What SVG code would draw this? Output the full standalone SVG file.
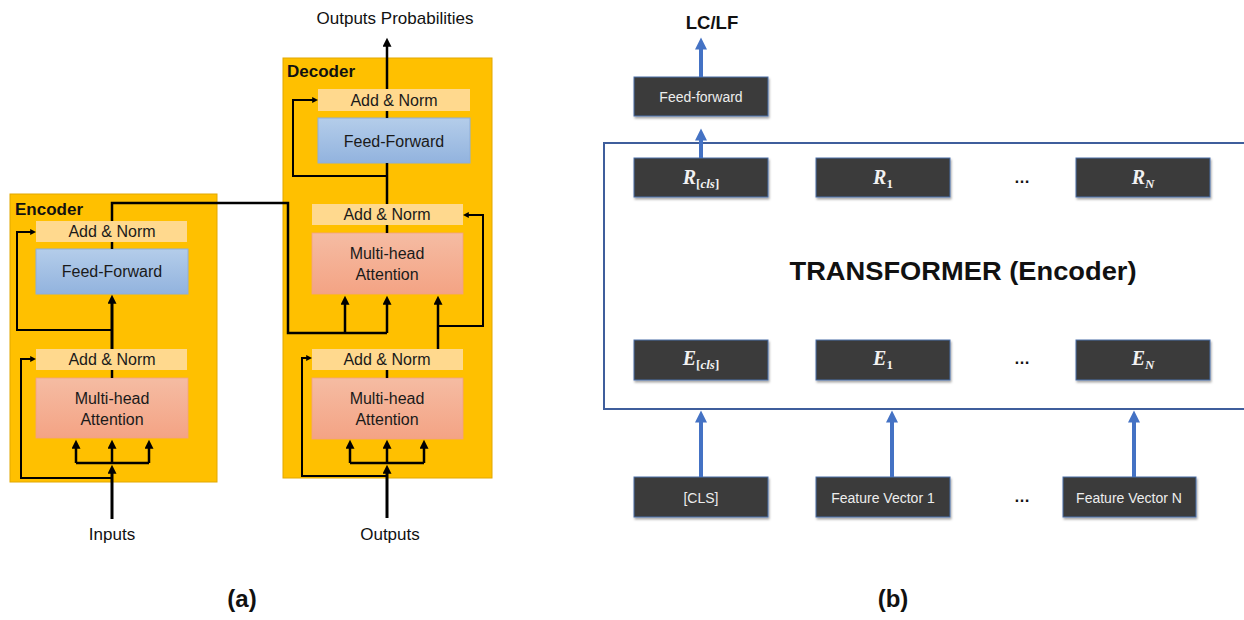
<svg xmlns="http://www.w3.org/2000/svg" width="1244" height="620" viewBox="0 0 1244 620">
  <defs>
    <linearGradient id="gFF" x1="0" y1="0" x2="0" y2="1">
      <stop offset="0" stop-color="#B4CDEA"/>
      <stop offset="1" stop-color="#92B3DE"/>
    </linearGradient>
    <linearGradient id="gMHA" x1="0" y1="0" x2="0" y2="1">
      <stop offset="0" stop-color="#F5BCA3"/>
      <stop offset="1" stop-color="#F4A384"/>
    </linearGradient>
    <filter id="shadow" x="-10%" y="-10%" width="125%" height="140%">
      <feDropShadow dx="1" dy="2" stdDeviation="1.2" flood-color="#000" flood-opacity="0.35"/>
    </filter>
    <marker id="arr" viewBox="0 0 10 10" markerWidth="10" markerHeight="9" refX="3" refY="5" orient="auto" markerUnits="userSpaceOnUse">
      <path d="M0,0 L10,5 L0,10 z" fill="#000"/>
    </marker>
    <marker id="arrS" viewBox="0 0 10 10" markerWidth="6" markerHeight="6" refX="3" refY="5" orient="auto" markerUnits="userSpaceOnUse">
      <path d="M0,0 L10,5 L0,10 z" fill="#000"/>
    </marker>
    <marker id="arrB" viewBox="0 0 10 10" markerWidth="13" markerHeight="12" refX="3" refY="5" orient="auto" markerUnits="userSpaceOnUse">
      <path d="M0,0 L10,5 L0,10 z" fill="#4472C4"/>
    </marker>
  </defs>
  <style>
    .panel { fill: #FFC000; stroke: #E2A800; stroke-width: 1; }
    .norm { fill: #FFD98E; }
    .ff { fill: url(#gFF); stroke: #8EAEDB; stroke-width: 1; }
    .mha { fill: url(#gMHA); stroke: #F2A080; stroke-width: 0.8; }
    .lbl { font-family: "Liberation Sans", Arial, sans-serif; font-size: 16px; fill: #1a1a1a; text-anchor: middle; }
    .title { font-family: "Liberation Sans", Arial, sans-serif; font-size: 17px; font-weight: bold; fill: #111; }
    .io { font-family: "Liberation Sans", Arial, sans-serif; font-size: 17px; fill: #111; text-anchor: middle; }
    .cap { font-family: "Liberation Sans", Arial, sans-serif; font-size: 24px; font-weight: bold; fill: #111; text-anchor: middle; }
    .dark { fill: #3A3A3A; stroke: #4A6FA8; stroke-width: 1; filter: url(#shadow); }
    .wt { font-family: "Liberation Sans", Arial, sans-serif; font-size: 14px; fill: #EDEDED; text-anchor: middle; }
    .math { font-family: "Liberation Serif", "Times New Roman", serif; font-size: 20px; font-weight: bold; font-style: italic; fill: #F2F2F2; text-anchor: middle; }
    .sub { font-size: 13px; }
    .up { font-style: normal; }
    .dots { font-family: "Liberation Sans", Arial, sans-serif; font-size: 16px; font-weight: bold; fill: #111; text-anchor: middle; }
    .k { fill: none; stroke: #000; stroke-width: 2.5; }
    .k3 { fill: none; stroke: #000; stroke-width: 3; }
    .k2 { fill: none; stroke: #000; stroke-width: 2; }
    .b { fill: none; stroke: #4472C4; stroke-width: 4; }
  </style>

  <rect width="1244" height="620" fill="#fff"/>

  <!-- (a) encoder stack -->
  <g id="encoder">
    <rect class="panel" x="10" y="194" width="207" height="288"/>
    <text class="title" x="15" y="215">Encoder</text>
  </g>
  <g id="enc-addnorm-top">
    <rect class="norm" x="36" y="221" width="151" height="21"/>
    <text class="lbl" x="112" y="237">Add &amp; Norm</text>
  </g>
  <g id="enc-ff">
    <rect class="ff" x="36" y="249" width="152" height="45"/>
    <text class="lbl" x="112" y="277">Feed-Forward</text>
  </g>
  <g id="enc-addnorm-bottom">
    <rect class="norm" x="36" y="349" width="151" height="21"/>
    <text class="lbl" x="112" y="365">Add &amp; Norm</text>
  </g>
  <g id="enc-mha">
    <rect class="mha" x="36" y="378" width="152" height="60"/>
    <text class="lbl" x="112" y="404">Multi-head</text>
    <text class="lbl" x="112" y="425">Attention</text>
  </g>

  <!-- (a) decoder stack -->
  <g id="decoder">
    <rect class="panel" x="283" y="58" width="209" height="420"/>
    <text class="title" x="287" y="77">Decoder</text>
  </g>
  <g id="dec-addnorm-top">
    <rect class="norm" x="318" y="89" width="152" height="22"/>
    <text class="lbl" x="394" y="106">Add &amp; Norm</text>
  </g>
  <g id="dec-ff">
    <rect class="ff" x="318" y="118" width="152" height="45"/>
    <text class="lbl" x="394" y="147">Feed-Forward</text>
  </g>
  <g id="dec-addnorm-mid">
    <rect class="norm" x="312" y="204" width="151" height="21"/>
    <text class="lbl" x="387" y="220">Add &amp; Norm</text>
  </g>
  <g id="dec-mha-cross">
    <rect class="mha" x="312" y="233" width="151" height="61"/>
    <text class="lbl" x="387" y="259">Multi-head</text>
    <text class="lbl" x="387" y="280">Attention</text>
  </g>
  <g id="dec-addnorm-bottom">
    <rect class="norm" x="312" y="349" width="151" height="21"/>
    <text class="lbl" x="387" y="365">Add &amp; Norm</text>
  </g>
  <g id="dec-mha-self">
    <rect class="mha" x="312" y="378" width="151" height="61"/>
    <text class="lbl" x="387" y="404">Multi-head</text>
    <text class="lbl" x="387" y="425">Attention</text>
  </g>

  <g id="labels-a">
    <text class="io" x="395" y="24">Outputs Probabilities</text>
    <text class="io" x="112" y="540">Inputs</text>
    <text class="io" x="390" y="540">Outputs</text>
    <text class="cap" x="242" y="607">(a)</text>
  </g>

  <!-- (b) BERT-style encoder -->
  <g id="transformer">
    <path d="M1250,143 H604 V409 H1250" fill="none" stroke="#3F5E9C" stroke-width="2"/>
    <text x="963" y="280" font-family="Liberation Sans, Arial, sans-serif" font-size="25" font-weight="bold" fill="#111" text-anchor="middle" textLength="347" lengthAdjust="spacingAndGlyphs">TRANSFORMER (Encoder)</text>
  </g>
  <g id="head-ff">
    <rect class="dark" x="634" y="77" width="134" height="39"/>
    <text class="wt" x="701" y="102">Feed-forward</text>
  </g>
  <g id="r-cls">
    <rect class="dark" x="634" y="158" width="134" height="39"/>
    <text class="math" x="701" y="184">R<tspan class="sub up" dy="4">[</tspan><tspan class="sub">cls</tspan><tspan class="sub up">]</tspan></text>
  </g>
  <g id="r-1">
    <rect class="dark" x="816" y="158" width="134" height="39"/>
    <text class="math" x="883" y="184">R<tspan class="sub up" dy="4">1</tspan></text>
  </g>
  <g id="r-n">
    <rect class="dark" x="1076" y="158" width="134" height="39"/>
    <text class="math" x="1143" y="184">R<tspan class="sub" dy="4">N</tspan></text>
  </g>
  <g id="e-cls">
    <rect class="dark" x="634" y="340" width="134" height="40"/>
    <text class="math" x="701" y="365">E<tspan class="sub up" dy="4">[</tspan><tspan class="sub">cls</tspan><tspan class="sub up">]</tspan></text>
  </g>
  <g id="e-1">
    <rect class="dark" x="816" y="340" width="134" height="40"/>
    <text class="math" x="883" y="365">E<tspan class="sub up" dy="4">1</tspan></text>
  </g>
  <g id="e-n">
    <rect class="dark" x="1076" y="340" width="134" height="40"/>
    <text class="math" x="1143" y="365">E<tspan class="sub" dy="4">N</tspan></text>
  </g>
  <g id="in-cls">
    <rect class="dark" x="634" y="477" width="134" height="40"/>
    <text class="wt" x="701" y="503">[CLS]</text>
  </g>
  <g id="in-fv1">
    <rect class="dark" x="816" y="477" width="134" height="40"/>
    <text class="wt" x="883" y="503">Feature Vector 1</text>
  </g>
  <g id="in-fvn">
    <rect class="dark" x="1063" y="477" width="133" height="40"/>
    <text class="wt" x="1129" y="503">Feature Vector N</text>
  </g>
  <g id="labels-b">
    <text class="dots" x="1022" y="183">…</text>
    <text class="dots" x="1022" y="364">…</text>
    <text class="dots" x="1022" y="502">…</text>
    <text x="712" y="29" font-family="Liberation Sans, Arial, sans-serif" font-size="18.5" font-weight="bold" fill="#111" text-anchor="middle">LC/LF</text>
    <text class="cap" x="893" y="607">(b)</text>
  </g>

  <g id="connectors">
    <!-- encoder -->
    <path class="k3" d="M112,519 V471" marker-end="url(#arr)"/>
    <path class="k" d="M76,463 H149"/>
    <path class="k" d="M76,463 V446" marker-end="url(#arr)"/>
    <path class="k" d="M112,463 V446" marker-end="url(#arr)"/>
    <path class="k" d="M149,463 V446" marker-end="url(#arr)"/>
    <path class="k2" d="M112,478 H21 V359 H32" marker-end="url(#arrS)"/>
    <path class="k" d="M112,378 V370"/>
    <path class="k3" d="M112,349 V301" marker-end="url(#arr)"/>
    <path class="k2" d="M112,330 H17 V232 H32" marker-end="url(#arrS)"/>
    <path class="k" d="M112,249 V242"/>
    <!-- encoder output into decoder cross-attention -->
    <path class="k" d="M112,221 V203 H288 V333 H387"/>
    <path class="k" d="M345,333 V302" marker-end="url(#arr)"/>
    <path class="k" d="M387,333 V302" marker-end="url(#arr)"/>
    <!-- decoder -->
    <path class="k3" d="M387,518 V471" marker-end="url(#arr)"/>
    <path class="k" d="M350,463 H424"/>
    <path class="k" d="M350,463 V446" marker-end="url(#arr)"/>
    <path class="k" d="M387,463 V446" marker-end="url(#arr)"/>
    <path class="k" d="M424,463 V446" marker-end="url(#arr)"/>
    <path class="k2" d="M387,476 H302 V358 H308" marker-end="url(#arrS)"/>
    <path class="k" d="M387,378 V370"/>
    <path class="k" d="M438,349 V302" marker-end="url(#arr)"/>
    <path class="k2" d="M438,326 H483 V215 H467" marker-end="url(#arrS)"/>
    <path class="k" d="M387,233 V225"/>
    <path class="k" d="M387,204 V163"/>
    <path class="k2" d="M387,176 H293 V100 H314" marker-end="url(#arrS)"/>
    <path class="k" d="M387,118 V111"/>
    <path class="k" d="M387,89 V44" marker-end="url(#arr)"/>
    <!-- (b) -->
    <path class="b" d="M701,77 V46" marker-end="url(#arrB)"/>
    <path class="b" d="M701,158 V137" marker-end="url(#arrB)"/>
    <path class="b" d="M701,477 V419" marker-end="url(#arrB)"/>
    <path class="b" d="M892,477 V419" marker-end="url(#arrB)"/>
    <path class="b" d="M1134,477 V419" marker-end="url(#arrB)"/>
  </g>
</svg>
